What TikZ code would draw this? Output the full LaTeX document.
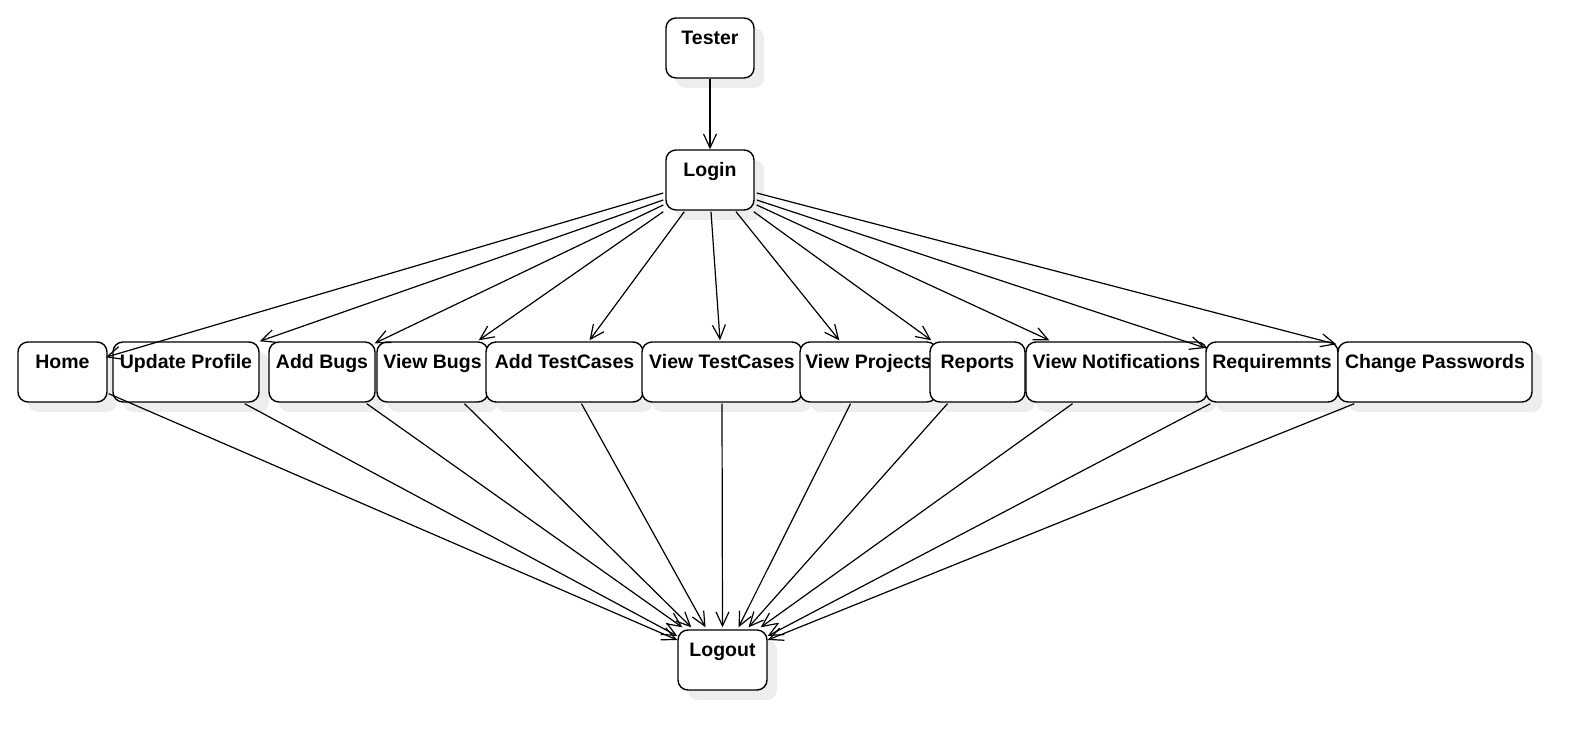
\documentclass[tikz,border=0pt]{standalone}
\usepackage{fontspec}
\setmainfont{Liberation Sans}
\usetikzlibrary{arrows.meta,calc,shadows}
\begin{document}
\begin{tikzpicture}[x=0.5pt,y=-0.5pt,
  box/.style={draw, line width=0.7pt, rounded corners=5pt, fill=white,
    minimum height=30pt, inner xsep=0pt, inner ysep=0pt,
    text height=13.5pt, text depth=16.5pt,
    font=\fontsize{9.75}{12}\selectfont\bfseries,
    drop shadow={shadow xshift=5pt, shadow yshift=-5pt, fill=black!7, opacity=1}},
  conn/.style={line width=0.6pt, -{Straight Barb[length=7pt,width=6.5pt,line width=0.6pt]}}]
\useasboundingbox (0,0) rectangle (1587,747);
% nodes
\node[box, minimum width=44pt] (tester) at (710,48) {Tester};
\node[box, minimum width=44pt] (login) at (710,180) {Login};
\node[box, minimum width=44.5pt] (home) at (62.5,372) {Home};
\node[box, minimum width=73pt] (update) at (186,372) {Update Profile};
\node[box, minimum width=53pt] (addbugs) at (322,372) {Add Bugs};
\node[box, minimum width=55.5pt] (viewbugs) at (432.5,372) {View Bugs};
\node[box, minimum width=78.5pt] (addtc) at (564.5,372) {Add TestCases};
\node[box, minimum width=80pt] (viewtc) at (722,372) {View TestCases};
\node[box, minimum width=68.5pt] (viewproj) at (868.5,372) {View Projects};
\node[box, minimum width=47.5pt] (reports) at (977.5,372) {Reports};
\node[box, minimum width=90.5pt] (viewnotif) at (1116.5,372) {View Notifications};
\node[box, minimum width=66pt] (req) at (1272,372) {Requiremnts};
\node[box, minimum width=97pt] (chpw) at (1435,372) {Change Passwords};
\node[box, minimum width=44.5pt] (logout) at (722.5,660) {Logout};
% Tester -> Login
\draw[conn] (tester) -- (login);
% Login -> row
\draw[conn] ($(login.west)+(-2,13)$) -- ($(home.north east)+(-2,16)$);
\draw[conn] ($(login.west)+(-2,20)$) -- (update.north east);
\draw[conn] ($(login.west)+(-2,25)$) -- ($(addbugs.north east)+(-1,2)$);
\draw[conn] ($(login.south west)+(-2,1)$) -- ($(viewbugs.north east)+(-10,-1)$);
\draw[conn] ($(login.south west)+(19,1)$) -- ($(addtc.north)+(25,-1)$);
\draw[conn] ($(login.south)+(1,1)$) -- ($(viewtc.north)+(-2,-1)$);
\draw[conn] ($(login.south)+(26,1)$) -- ($(viewproj.north west)+(40,-1)$);
\draw[conn] ($(login.south east)+(-1,1)$) -- ($(reports.north west)+(2,-1)$);
\draw[conn] ($(login.east)+(2,25)$) -- ($(viewnotif.north west)+(24,-1)$);
\draw[conn] ($(login.east)+(2,20)$) -- ($(req.west)+(0,-24)$);
\draw[conn] ($(login.east)+(2,13)$) -- ($(chpw.north west)+(-1,3)$);
% row -> Logout
\draw[conn] ($(home.south east)+(1,-9)$) -- ($(logout.west)+(0,-20)$);
\draw[conn] ($(update.south east)+(-15,1)$) -- ($(logout.west)+(0,-24)$);
\draw[conn] ($(addbugs.south east)+(-9,1)$) -- ($(logout.north west)+(5,-2)$);
\draw[conn] ($(viewbugs.south)+(32,1)$) -- ($(logout.north west)+(14,-2)$);
\draw[conn] ($(addtc.south)+(17,1)$) -- ($(logout.north)+(-17,-2)$);
\draw[conn] ($(viewtc.south)+(0,1)$) -- ($(logout.north)+(0,-2)$);
\draw[conn] ($(viewproj.south)+(-18,1)$) -- ($(logout.north)+(16,-2)$);
\draw[conn] ($(reports.south)+(-30,1)$) -- ($(logout.north)+(26,-2)$);
\draw[conn] ($(viewnotif.south)+(-44,1)$) -- ($(logout.north east)+(-7,-2)$);
\draw[conn] ($(req.south west)+(5,1)$) -- ($(logout.east)+(0,-24)$);
\draw[conn] ($(chpw.south west)+(17,1)$) -- ($(logout.east)+(0,-20)$);
\end{tikzpicture}
\end{document}
